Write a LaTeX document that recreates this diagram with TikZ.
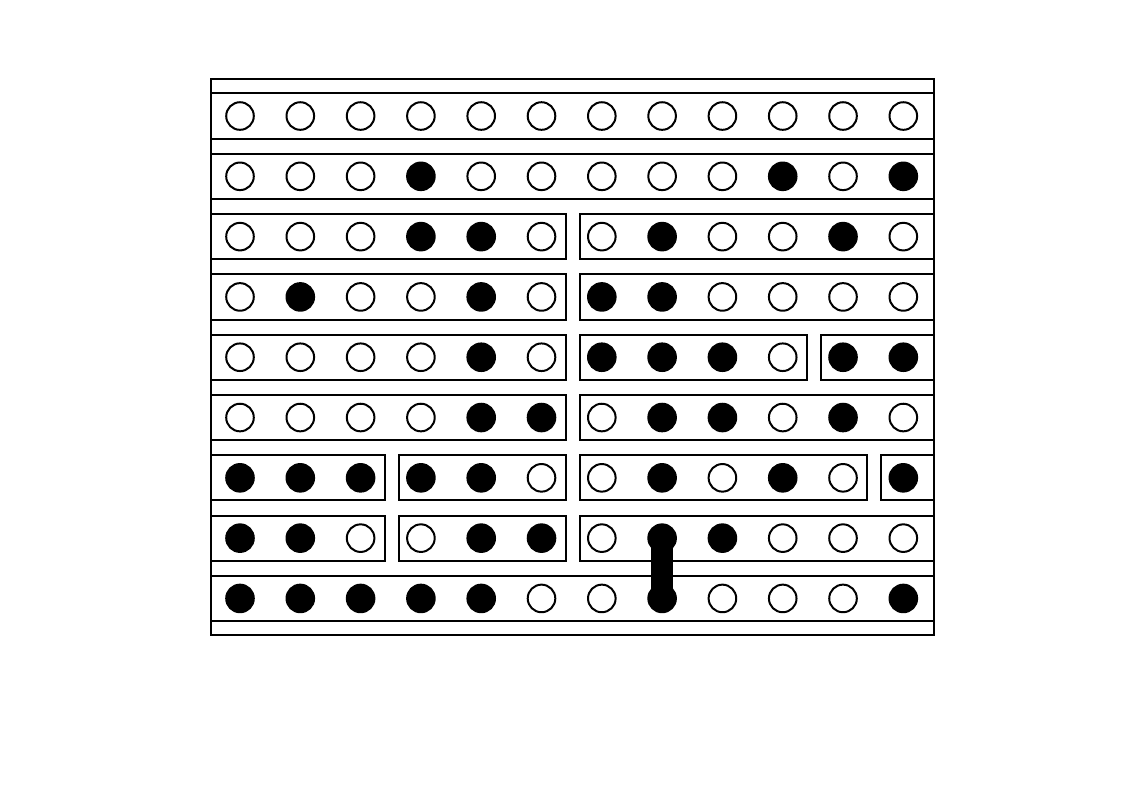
\documentclass[tikz,border=0pt]{standalone}
\usepackage{tikz}

\colorlet{peg0}{white}
\colorlet{peg1}{black}

\begin{document}
\begin{tikzpicture}[x=1.595cm, y=1.595cm, line width=1.5pt,
    hole/.style={draw, circle, inner sep=0pt, minimum size=7.3mm},
    wire/.style={line width=5.8mm}]
    \useasboundingbox (-3.98,1.924) rectangle (14.643,-11.227);
    \def\stripH{0.375}
    % board frame
    \draw (-0.48,0.62) rectangle (11.51,-8.61);
    % copper strips, cut where the gaps are
    \foreach \r/\a/\b in {1/-0.48/11.51, 2/-0.48/11.51,
        3/-0.48/5.4, 3/5.63/11.51, 4/-0.48/5.4, 4/5.63/11.51,
        5/-0.48/5.4, 5/5.63/9.4, 5/9.63/11.51,
        6/-0.48/5.4, 6/5.63/11.51,
        7/-0.48/2.4, 7/2.63/5.4, 7/5.63/10.4, 7/10.63/11.51,
        8/-0.48/2.4, 8/2.63/5.4, 8/5.63/11.51,
        9/-0.48/11.51}
        \draw (\a,1-\r+\stripH) rectangle (\b,1-\r-\stripH);
    % holes, 1 = filled
    \foreach \r/\pat in {1/{0,0,0,0,0,0,0,0,0,0,0,0},
        2/{0,0,0,1,0,0,0,0,0,1,0,1},
        3/{0,0,0,1,1,0,0,1,0,0,1,0},
        4/{0,1,0,0,1,0,1,1,0,0,0,0},
        5/{0,0,0,0,1,0,1,1,1,0,1,1},
        6/{0,0,0,0,1,1,0,1,1,0,1,0},
        7/{1,1,1,1,1,0,0,1,0,1,0,1},
        8/{1,1,0,0,1,1,0,1,1,0,0,0},
        9/{1,1,1,1,1,0,0,1,0,0,0,1}}
        \foreach \f [count=\c] in \pat
            \node[hole, fill=peg\f] (p\r-\c) at (\c-1,1-\r) {};
    % link
    \draw[wire] (p8-8.center) -- (p9-8.center);
\end{tikzpicture}
\end{document}
